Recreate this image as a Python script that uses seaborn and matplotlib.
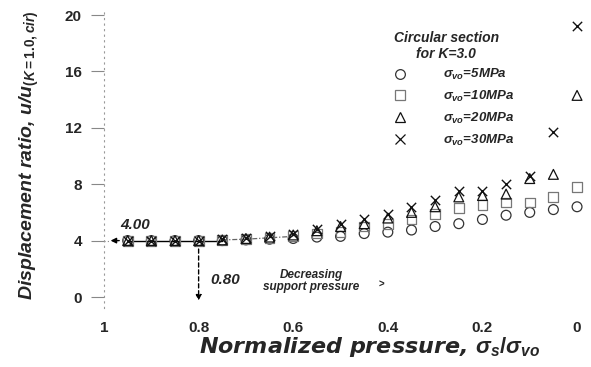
import numpy as np
import pandas as pd
import matplotlib
matplotlib.use("Agg")
import matplotlib.pyplot as plt
import seaborn as sns
from matplotlib.lines import Line2D

# ---- data ----
pressure = [0.95, 0.90, 0.85, 0.80, 0.75, 0.70, 0.65, 0.60, 0.55, 0.50,
            0.45, 0.40, 0.35, 0.30, 0.25, 0.20, 0.15, 0.10, 0.05, 0.00]
ratio_5mpa = [4.0, 4.0, 4.0, 4.0, 4.0, 4.05, 4.1, 4.15, 4.25, 4.3,
              4.5, 4.6, 4.75, 5.0, 5.2, 5.5, 5.8, 6.0, 6.2, 6.4]
ratio_10mpa = [4.0, 4.0, 4.0, 4.0, 4.05, 4.1, 4.2, 4.3, 4.5, 4.6,
               5.0, 5.2, 5.5, 5.9, 6.3, 6.5, 6.7, 6.7, 7.1, 7.8]
ratio_20mpa = [4.0, 4.0, 4.0, 4.0, 4.05, 4.15, 4.25, 4.4, 4.7, 5.0,
               5.2, 5.6, 6.0, 6.4, 7.1, 7.2, 7.3, 8.4, 8.7, 14.3]
ratio_30mpa = [4.0, 4.0, 4.0, 4.0, 4.1, 4.2, 4.35, 4.5, 4.85, 5.2,
               5.5, 5.9, 6.4, 6.9, 7.5, 7.5, 8.0, 8.6, 11.7, 19.2]
series_labels = [r"$\sigma_{vo}$=5MPa", r"$\sigma_{vo}$=10MPa",
                 r"$\sigma_{vo}$=20MPa", r"$\sigma_{vo}$=30MPa"]
y_ticks = [0, 4, 8, 12, 16, 20]
x_ticks = [1, 0.8, 0.6, 0.4, 0.2, 0]
x_tick_labels = ["1", "0.8", "0.6", "0.4", "0.2", "0"]

# ---- style ----
sns.set_theme(style="white")
plt.rcParams["font.family"] = ["Liberation Sans", "DejaVu Sans"]
plt.rcParams["mathtext.fontset"] = "custom"
plt.rcParams["mathtext.rm"] = "Liberation Sans:bold"
plt.rcParams["mathtext.it"] = "Liberation Sans:italic:bold"
plt.rcParams["mathtext.bf"] = "Liberation Sans:bold"

fig = plt.figure(figsize=(5.91, 3.67), dpi=100)
ax = fig.add_axes([0.176, 0.160, 0.8164, 0.8144])

styles = [
    dict(marker="o", ec="#333333"),
    dict(marker="s", ec="#777777"),
    dict(marker="^", ec="#111111"),
    dict(marker="x", ec="#111111"),
]
all_series = [ratio_5mpa, ratio_10mpa, ratio_20mpa, ratio_30mpa]

# connecting lines near the start (as in the figure)
ax.plot(pressure[:5], ratio_5mpa[:5], color="black", lw=1.0, zorder=1)
ax.plot(pressure[4:8], ratio_10mpa[4:8], color="#666666", lw=0.9,
        ls=(0, (4, 1.5, 1, 1.5)), zorder=1)

for ys, st in zip(all_series, styles):
    df = pd.DataFrame({"p": pressure, "r": ys})
    if st["marker"] == "x":
        sns.scatterplot(data=df, x="p", y="r", marker="x", s=45,
                        color=st["ec"], linewidth=1.0, ax=ax, zorder=3)
    else:
        sns.scatterplot(data=df, x="p", y="r", marker=st["marker"], s=50,
                        facecolor="none", edgecolor=st["ec"], linewidth=0.9,
                        ax=ax, zorder=3)

ax.set_xlim(1.0, -0.02)
ax.set_ylim(-0.8, 20.4)
ax.set_yticks(y_ticks)
ax.set_yticklabels([str(v) for v in y_ticks], fontsize=11, fontweight="bold")
ax.set_xticks(x_ticks)
ax.set_xticklabels(x_tick_labels, fontsize=11, fontweight="bold")
ax.tick_params(axis="y", which="major", length=9.5, width=0.8,
               color="#888888", pad=6.5, left=True)
ax.tick_params(axis="x", length=0, pad=9)

for s in ["top", "right", "bottom"]:
    ax.spines[s].set_visible(False)
ax.spines["left"].set_linestyle((0, (1, 4)))
ax.spines["left"].set_color("#999999")
ax.spines["left"].set_linewidth(0.8)

ax.set_xlabel(r"Normalized pressure, $\sigma_s/\sigma_{vo}$",
              fontsize=16, fontweight="bold", style="italic",
              family=["DejaVu Sans"])
ax.xaxis.set_label_coords(0.55, -0.088)
ax.set_ylabel(r"Displacement ratio, u/u$_{(K=1.0,cir)}$",
              fontsize=14, fontweight="bold", style="italic")
ax.yaxis.set_label_coords(-0.13, 0.513)

# annotations
ax.annotate("", xy=(0.992, 4.0), xytext=(0.962, 4.0),
            arrowprops=dict(arrowstyle="-|>", color="black", lw=1.0,
                            mutation_scale=8))
ax.plot([1.0, 0.99], [4.0, 4.0], color="#888888", lw=0.8, ls=(0, (1, 2)))
ax.text(0.935, 5.1, "4.00", fontsize=11, fontweight="bold", style="italic",
        ha="center", va="center")
ax.annotate("", xy=(0.8, -0.45), xytext=(0.8, 3.6),
            arrowprops=dict(arrowstyle="-|>", color="black", lw=1.0,
                            ls=(0, (3, 2)), mutation_scale=8))
ax.text(0.743, 1.2, "0.80", fontsize=11, fontweight="bold", style="italic",
        ha="center", va="center")
ax.text(0.562, 1.13, "Decreasing\nsupport pressure", fontsize=8.5,
        fontweight="bold", style="italic", ha="center", va="center",
        linespacing=1.0)
ax.text(0.413, 0.85, ">", fontsize=7, fontweight="bold", ha="center",
        va="center")

# legend
handles = [
    Line2D([], [], ls="none", marker="o", mfc="none", mec="#333333", ms=7, mew=0.9),
    Line2D([], [], ls="none", marker="s", mfc="none", mec="#777777", ms=7, mew=0.9),
    Line2D([], [], ls="none", marker="^", mfc="none", mec="#111111", ms=7, mew=0.9),
    Line2D([], [], ls="none", marker="x", color="#111111", ms=7, mew=0.9),
]
leg = ax.legend(handles, series_labels, title="Circular section\nfor K=3.0",
                loc="upper left", bbox_to_anchor=(387 / 591, 1 - 24 / 367),
                bbox_transform=fig.transFigure, frameon=False,
                prop=dict(size=9.5, weight="bold", style="italic"),
                title_fontproperties=dict(size=10, weight="bold", style="italic"),
                handlelength=1.0, handletextpad=2.75, labelspacing=0.5,
                borderpad=0.0, alignment="left")
leg.get_title().set_multialignment("center")

fig.savefig("out.png", dpi=100, facecolor="white")
